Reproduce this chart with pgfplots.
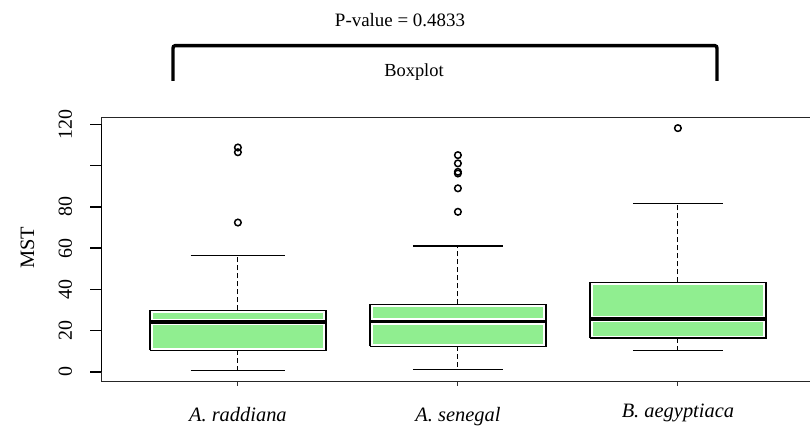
\documentclass[border=0pt]{standalone}
\usepackage{fontspec}
\setmainfont{Liberation Serif}
\usepackage{pgfplots}
\pgfplotsset{compat=1.18}
\definecolor{lgreen}{RGB}{144,238,144}
\pgfplotsset{
  boxout/.style={draw=black, fill=white, line width=1.6bp, line join=miter, solid},
  boxin/.style={draw=none, fill=lgreen},
  medwhite/.style={draw=white, line width=6.4bp, line cap=butt},
  medblack/.style={draw=black, line width=3.6bp, line cap=butt},
  whisk/.style={draw=black, line width=1bp, dash pattern=on 5bp off 3bp},
  cap/.style={draw=black, line width=1.4bp, solid},
  outl/.style={only marks, mark=o, mark size=3.3bp, mark options={black, line width=1.5bp, solid}},
}
\begin{document}
\begin{tikzpicture}
\begin{axis}[
  at={(0,0)}, anchor=south west,
  scale only axis, width=712.8bp, height=264.3bp,
  xmin=0.38, xmax=3.62, ymin=-4.8, ymax=123.4,
  axis line style={line width=1bp, black!85},
  xtick={1,2,3},
  xticklabels={\textit{A. raddiana},\textit{A. senegal},\raisebox{4.4bp}{\textit{B. aegyptiaca}}},
  xtick style={draw=none},
  xticklabel style={anchor=base, yshift=-29bp, font=\fontsize{20.5}{24}\selectfont},
  ytick={0,20,40,60,80,100,120},
  yticklabels={0,20,40,60,80,,120},
  ytick pos=left, xtick pos=bottom,
  tick align=outside, major tick length=11bp,
  ytick style={line width=1.4bp, black},
  yticklabel style={xshift=-15bp, rotate=90, anchor=south, font=\fontsize{20}{22}\selectfont},
  ylabel={MST},
  every axis y label/.style={at={(rel axis cs:0,0.507)}, xshift=-74bp, rotate=90, anchor=center, font=\fontsize{20.5}{24}\selectfont},
  clip=false,
]
% ---------- A. raddiana (x=1): whiskers 0.5, 56.4; Q1 10.4, median 24.1, Q3 29.8
\addplot[whisk] coordinates {(1,29.8) (1,56.4)};
\addplot[whisk] coordinates {(1,10.4) (1,0.5)};
\addplot[cap] coordinates {(0.785,56.4) (1.215,56.4)};
\addplot[cap] coordinates {(0.785,0.5) (1.215,0.5)};
\addplot[boxout] coordinates {(0.6,10.4) (1.4,10.4) (1.4,29.8) (0.6,29.8) (0.6,10.4)};
\addplot[boxin] coordinates {(0.612,11.7) (1.388,11.7) (1.388,28.5) (0.612,28.5)};
\addplot[medwhite] coordinates {(0.612,24.1) (1.388,24.1)};
\addplot[medblack] coordinates {(0.6,24.1) (1.4,24.1)};
\addplot[outl] coordinates {(1,108.8) (1,106.5) (1,72.4)};
% ---------- A. senegal (x=2): whiskers 1.2, 61.1; Q1 12.3, median 24.4, Q3 32.7
\addplot[whisk] coordinates {(2,32.7) (2,61.1)};
\addplot[whisk] coordinates {(2,12.3) (2,1.2)};
\addplot[cap] coordinates {(1.795,61.1) (2.205,61.1)};
\addplot[cap] coordinates {(1.795,1.2) (2.205,1.2)};
\addplot[boxout] coordinates {(1.6,12.3) (2.4,12.3) (2.4,32.7) (1.6,32.7) (1.6,12.3)};
\addplot[boxin] coordinates {(1.612,13.6) (2.388,13.6) (2.388,31.4) (1.612,31.4)};
\addplot[medwhite] coordinates {(1.612,24.4) (2.388,24.4)};
\addplot[medblack] coordinates {(1.6,24.4) (2.4,24.4)};
\addplot[outl] coordinates {(2,105.1) (2,101.1) (2,97.0) (2,96.2) (2,89.0) (2,77.6)};
% ---------- B. aegyptiaca (x=3): whiskers 10.2, 81.5; Q1 16.3, median 25.6, Q3 43.4
\addplot[whisk] coordinates {(3,43.4) (3,81.5)};
\addplot[whisk] coordinates {(3,16.3) (3,10.2)};
\addplot[cap] coordinates {(2.795,81.5) (3.205,81.5)};
\addplot[cap] coordinates {(2.795,10.2) (3.205,10.2)};
\addplot[boxout] coordinates {(2.6,16.3) (3.4,16.3) (3.4,43.4) (2.6,43.4) (2.6,16.3)};
\addplot[boxin] coordinates {(2.612,17.6) (3.388,17.6) (3.388,42.1) (2.612,42.1)};
\addplot[medwhite] coordinates {(2.612,25.6) (3.388,25.6)};
\addplot[medblack] coordinates {(2.6,25.6) (3.4,25.6)};
\addplot[outl] coordinates {(3,118.2)};
% axis decorations
\draw[line width=1.8bp, black] (axis cs:0.38,0) -- (axis cs:0.38,120);
\draw[line width=0.9bp, black!80] (axis cs:1,-4.8) -- (axis cs:1,-6.7);
\draw[line width=0.9bp, black!80] (axis cs:2,-4.8) -- (axis cs:2,-6.7);
\draw[line width=0.9bp, black!80] (axis cs:3,-4.8) -- (axis cs:3,-6.7);
\end{axis}
% annotation bracket
\draw[line width=3.4bp, line cap=butt] (71.5bp,300.7bp) -- (71.5bp,333.5bp) to[out=90,in=180] (73.5bp,336bp) -- (613.5bp,336bp) to[out=0,in=90] (615.5bp,333.5bp) -- (615.5bp,300.7bp);
\node[font=\fontsize{19}{22}\selectfont] at (298.5bp,361.7bp) {P-value = 0.4833};
\node[font=\fontsize{18.5}{22}\selectfont] at (312.5bp,309.7bp) {Boxplot};
\pgfresetboundingbox
\path (-101.5bp,-44.3bp) rectangle (708.5bp,381.7bp);
\end{tikzpicture}
\end{document}
